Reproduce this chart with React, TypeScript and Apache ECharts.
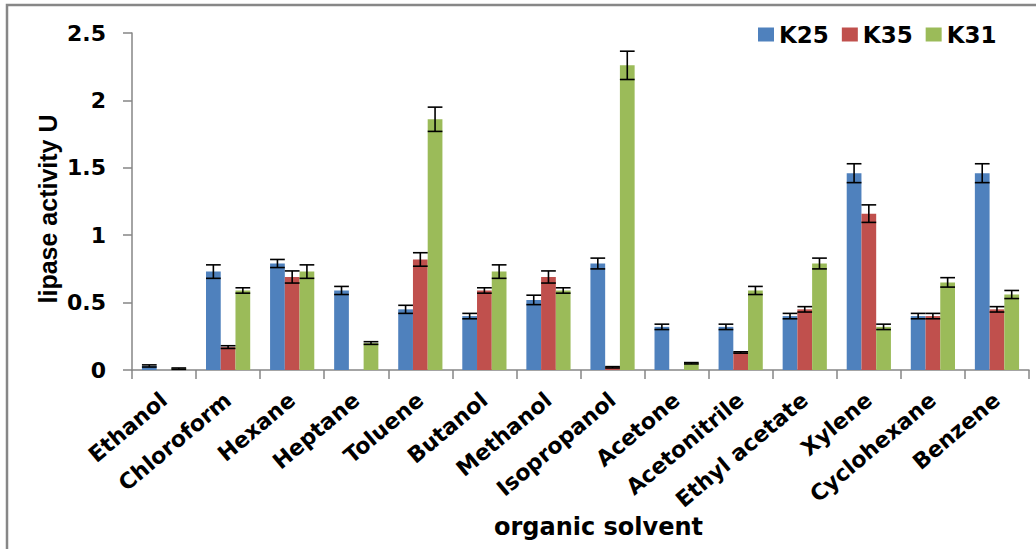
import React, { useEffect, useRef } from "react";
import * as echarts from "echarts";

// Solvents tested and measured lipase activity (U) per strain, with error margins
const solvents = [
  "Ethanol",
  "Chloroform",
  "Hexane",
  "Heptane",
  "Toluene",
  "Butanol",
  "Methanol",
  "Isopropanol",
  "Acetone",
  "Acetonitrile",
  "Ethyl acetate",
  "Xylene",
  "Cyclohexane",
  "Benzene",
];

const k25 = [0.03, 0.73, 0.79, 0.59, 0.45, 0.4, 0.52, 0.79, 0.32, 0.32, 0.4, 1.46, 0.4, 1.46];
const k35 = [0, 0.17, 0.69, 0, 0.82, 0.59, 0.69, 0.02, 0, 0.13, 0.45, 1.16, 0.4, 0.45];
const k31 = [0.01, 0.59, 0.73, 0.2, 1.86, 0.73, 0.59, 2.26, 0.05, 0.59, 0.79, 0.32, 0.65, 0.56];

const k25Err = [0.008, 0.05, 0.03, 0.03, 0.03, 0.02, 0.035, 0.04, 0.02, 0.02, 0.02, 0.07, 0.02, 0.07];
const k35Err = [0, 0.01, 0.045, 0, 0.05, 0.02, 0.045, 0.005, 0, 0.005, 0.02, 0.065, 0.02, 0.02];
const k31Err = [0.005, 0.02, 0.05, 0.01, 0.09, 0.05, 0.02, 0.105, 0.005, 0.03, 0.04, 0.02, 0.035, 0.03];

const yTicks = { min: 0, max: 2.5, interval: 0.5 };

const strains = [
  { name: "K25", values: k25, errors: k25Err, color: "#4F81BD" },
  { name: "K35", values: k35, errors: k35Err, color: "#C0504D" },
  { name: "K31", values: k31, errors: k31Err, color: "#9BBB59" },
];

const CATEGORY_GAP = 0.31;
const WIDE_FONT = "DejaVu Sans";
const ARIAL_LIKE = "Liberation Sans";

// Error bars drawn over the bar at position `slot` inside each category band
function errorBarRenderer(slot: number, count: number) {
  return (_params: any, api: any) => {
    const idx = api.value(0);
    const v = api.value(1);
    const e = api.value(2);
    if (!(e > 0)) return null;
    const band = api.size([1, 0])[0];
    const bw = (band * (1 - CATEGORY_GAP)) / count;
    const cx = api.coord([idx, 0])[0] + (slot - (count - 1) / 2) * bw;
    const top = api.coord([idx, v + e])[1];
    const bot = api.coord([idx, Math.max(v - e, 0)])[1];
    const half = bw / 2;
    const style = { stroke: "#000", lineWidth: 1.6 };
    return {
      type: "group",
      children: [
        { type: "line", shape: { x1: cx, y1: top, x2: cx, y2: bot }, style },
        { type: "line", shape: { x1: cx - half, y1: top, x2: cx + half, y2: top }, style },
        { type: "line", shape: { x1: cx - half, y1: bot, x2: cx + half, y2: bot }, style },
      ],
    };
  };
}

export default function App() {
  const ref = useRef<HTMLDivElement>(null);

  useEffect(() => {
    if (!ref.current) return;
    const chart = echarts.init(ref.current, null, { renderer: "svg" });

    const barSeries = strains.map((s) => ({
      name: s.name,
      type: "bar",
      data: s.values,
      barGap: "0%",
      barCategoryGap: `${CATEGORY_GAP * 100}%`,
      itemStyle: { color: s.color },
      z: 2,
    }));

    const errorSeries = strains.map((s, i) => ({
      name: `${s.name} error`,
      type: "custom",
      renderItem: errorBarRenderer(i, strains.length),
      data: s.values.map((v, j) => [j, v, s.errors[j]]),
      encode: { x: 0, y: 1 },
      z: 5,
      silent: true,
    }));

    const axisColor = "#868686";

    chart.setOption({
      animation: false,
      backgroundColor: "#ffffff",
      graphic: [
        {
          type: "rect",
          shape: { x: 7, y: 5, width: 1100, height: 600 },
          style: { fill: "none", stroke: "#878787", lineWidth: 2.5 },
          z: -1,
          silent: true,
        },
      ],
      legend: {
        data: strains.map((s) => s.name),
        left: 753,
        top: 18,
        icon: "rect",
        itemWidth: 16,
        itemHeight: 14,
        itemGap: 13,
        textStyle: {
          fontFamily: WIDE_FONT,
          fontWeight: "bold",
          fontSize: 23,
          color: "#000",
        },
      },
      grid: {
        left: 132,
        right: 7,
        top: 33,
        bottom: 179,
        containLabel: false,
        outerBoundsMode: "none",
      },
      xAxis: {
        type: "category",
        data: solvents,
        name: "organic solvent",
        nameLocation: "middle",
        nameGap: 145,
        nameMoveOverlap: false,
        nameTextStyle: {
          fontFamily: WIDE_FONT,
          fontWeight: "bold",
          fontSize: 24,
          color: "#000",
          padding: [0, 0, 0, 36],
        },
        axisLine: { show: true, lineStyle: { color: axisColor, width: 1.5 } },
        axisTick: { show: true, length: 9, lineStyle: { color: axisColor, width: 1.5 } },
        axisLabel: {
          interval: 0,
          rotate: 40,
          margin: 27,
          fontFamily: WIDE_FONT,
          fontWeight: "bold",
          fontSize: 22,
          color: "#000",
        },
      },
      yAxis: {
        type: "value",
        min: yTicks.min,
        max: yTicks.max,
        interval: yTicks.interval,
        name: "lipase activity U",
        nameLocation: "middle",
        nameGap: 72,
        nameMoveOverlap: false,
        nameTextStyle: {
          fontFamily: ARIAL_LIKE,
          fontWeight: "bold",
          fontSize: 25,
          color: "#000",
          padding: [0, 15, 0, 0],
        },
        splitLine: { show: false },
        axisLine: { show: true, lineStyle: { color: axisColor, width: 1.5 } },
        axisTick: { show: true, length: 9, lineStyle: { color: axisColor, width: 1.5 } },
        axisLabel: {
          margin: 26,
          fontFamily: WIDE_FONT,
          fontWeight: "bold",
          fontSize: 22,
          color: "#000",
        },
      },
      series: [...barSeries, ...errorSeries],
    });

    return () => chart.dispose();
  }, []);

  return (
    <div
      ref={ref}
      style={{ position: "absolute", left: 0, top: 0, width: 1036, height: 549 }}
    />
  );
}
